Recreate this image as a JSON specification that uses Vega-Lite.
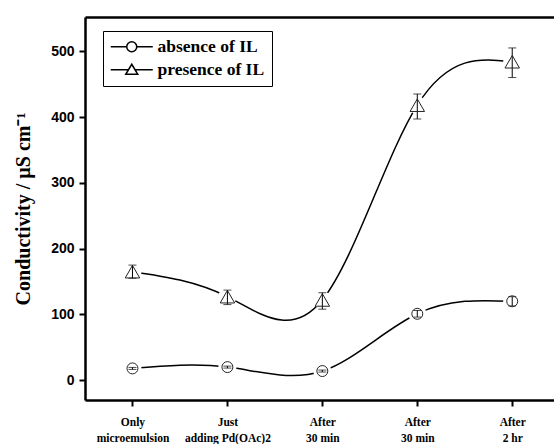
{
  "$schema": "https://vega.github.io/schema/vega-lite/v6.json",
  "width": 469,
  "height": 383,
  "autosize": {"type": "none"},
  "padding": {"left": 85, "top": 17, "right": 0, "bottom": 44},
  "background": "white",
  "config": {"view": {"stroke": null}, "axis": {"grid": false}},
  "data": {
    "values": [
      {"step": 1, "series": "absence of IL", "value": 18, "lo": 16.5, "hi": 19.5},
      {"step": 2, "series": "absence of IL", "value": 20, "lo": 18.5, "hi": 21.5},
      {"step": 3, "series": "absence of IL", "value": 14, "lo": 12.5, "hi": 15.5},
      {"step": 4, "series": "absence of IL", "value": 101, "lo": 96, "hi": 106},
      {"step": 5, "series": "absence of IL", "value": 120, "lo": 113, "hi": 127},
      {"step": 1, "series": "presence of IL", "value": 165, "lo": 155, "hi": 175},
      {"step": 2, "series": "presence of IL", "value": 127, "lo": 115, "hi": 137},
      {"step": 3, "series": "presence of IL", "value": 122, "lo": 108, "hi": 133},
      {"step": 4, "series": "presence of IL", "value": 418, "lo": 397, "hi": 435},
      {"step": 5, "series": "presence of IL", "value": 484, "lo": 460, "hi": 505}
    ]
  },
  "resolve": {"axis": {"x": "independent"}},
  "layer": [
    {
      "mark": {"type": "line", "interpolate": "natural", "color": "black", "strokeWidth": 1.5},
      "encoding": {
        "x": {
          "field": "step", "type": "quantitative",
          "scale": {"domain": [0.5, 5.44], "nice": false, "zero": false},
          "axis": {
            "orient": "bottom", "values": [1, 2, 3, 4, 5], "title": null,
            "domainWidth": 2.5, "domainColor": "black", "tickColor": "black", "tickWidth": 2, "tickSize": 6,
            "labelFont": "Liberation Serif", "labelFontWeight": "bold", "labelFontSize": 11.5, "labelColor": "black",
            "labelPadding": 10, "labelLineHeight": 16,
            "labelExpr": "datum.value == 1 ? ['Only','microemulsion'] : datum.value == 2 ? ['Just','adding Pd(OAc)2'] : datum.value == 5 ? ['After','2 hr'] : ['After','30 min']"
          }
        },
        "y": {
          "field": "value", "type": "quantitative",
          "scale": {"domain": [-30, 552], "nice": false, "zero": false},
          "title": "Conductivity / µS cm⁻¹",
          "axis": {
            "orient": "left",
            "values": [0, 50, 100, 150, 200, 250, 300, 350, 400, 450, 500],
            "labelExpr": "datum.value % 100 === 0 ? datum.label : ''",
            "titleFont": "Liberation Serif", "titleFontWeight": "bold", "titleFontSize": 20, "titleColor": "black", "titlePadding": 17,
            "labelFont": "Liberation Sans", "labelFontWeight": "bold", "labelFontSize": 14, "labelColor": "black", "labelPadding": 5,
            "tickSize": 6, "tickWidth": 2, "tickColor": "black",
            "domainWidth": 2.5, "domainColor": "black"
          }
        },
        "detail": {"field": "series"}
      }
    },
    {
      "mark": {"type": "point", "filled": true, "color": "white", "size": 330, "shape": "circle", "opacity": 1},
      "encoding": {
        "x": {
          "field": "step", "type": "quantitative",
          "axis": {"orient": "top", "labels": false, "ticks": false, "title": null, "domainWidth": 2.5, "domainColor": "black"}
        },
        "y": {"field": "value", "type": "quantitative", "title": "Conductivity / µS cm⁻¹"}
      }
    },
    {
      "transform": [{"filter": "datum.step > 100"}],
      "mark": {"type": "point", "filled": false, "color": "black", "strokeWidth": 1.5, "opacity": 1},
      "encoding": {
        "x": {"field": "step", "type": "quantitative", "axis": null},
        "y": {"field": "value", "type": "quantitative", "title": "Conductivity / µS cm⁻¹"},
        "shape": {
          "field": "series", "type": "nominal",
          "scale": {
            "domain": ["absence of IL", "presence of IL"],
            "range": [
              "M-4.2,0H-1M1,0H4.2M1,0A1,1,0,1,1,-1,0A1,1,0,1,1,1,0Z",
              "M-4.2,0H-0.66M0.66,0H4.2M0,-1.1L1.2,0.9L-1.2,0.9Z"
            ]
          },
          "legend": {
            "title": null, "orient": "none", "legendX": 18, "legendY": 14,
            "fillColor": "white", "strokeColor": "black", "padding": 7, "cornerRadius": 0,
            "symbolSize": 100, "symbolOffset": 13, "symbolStrokeColor": "black", "symbolStrokeWidth": 1.5, "symbolFillColor": "white",
            "labelFont": "Liberation Serif", "labelFontWeight": "bold", "labelFontSize": 17.5, "labelColor": "black", "labelOffset": 17,
            "rowPadding": 4
          }
        }
      }
    },
    {
      "mark": {"type": "rule", "color": "black", "strokeWidth": 1},
      "encoding": {
        "x": {"field": "step", "type": "quantitative", "axis": null},
        "y": {"field": "lo", "type": "quantitative", "title": "Conductivity / µS cm⁻¹"},
        "y2": {"field": "hi"}
      }
    },
    {
      "mark": {"type": "tick", "orient": "horizontal", "size": 8, "thickness": 1, "color": "black"},
      "encoding": {
        "x": {"field": "step", "type": "quantitative", "axis": null},
        "y": {"field": "lo", "type": "quantitative", "title": "Conductivity / µS cm⁻¹"}
      }
    },
    {
      "mark": {"type": "tick", "orient": "horizontal", "size": 8, "thickness": 1, "color": "black"},
      "encoding": {
        "x": {"field": "step", "type": "quantitative", "axis": null},
        "y": {"field": "hi", "type": "quantitative", "title": "Conductivity / µS cm⁻¹"}
      }
    },
    {
      "transform": [{"filter": "datum.series === 'absence of IL'"}],
      "mark": {"type": "point", "shape": "circle", "filled": false, "color": "#222", "strokeWidth": 1, "opacity": 1, "size": 120},
      "encoding": {
        "x": {"field": "step", "type": "quantitative", "axis": null},
        "y": {"field": "value", "type": "quantitative", "title": "Conductivity / µS cm⁻¹"}
      }
    },
    {
      "transform": [{"filter": "datum.series === 'presence of IL'"}],
      "mark": {"type": "point", "shape": "triangle-up", "filled": false, "color": "#222", "strokeWidth": 1, "opacity": 1, "size": 210},
      "encoding": {
        "x": {"field": "step", "type": "quantitative", "axis": null},
        "y": {"field": "value", "type": "quantitative", "title": "Conductivity / µS cm⁻¹"}
      }
    }
  ]
}
